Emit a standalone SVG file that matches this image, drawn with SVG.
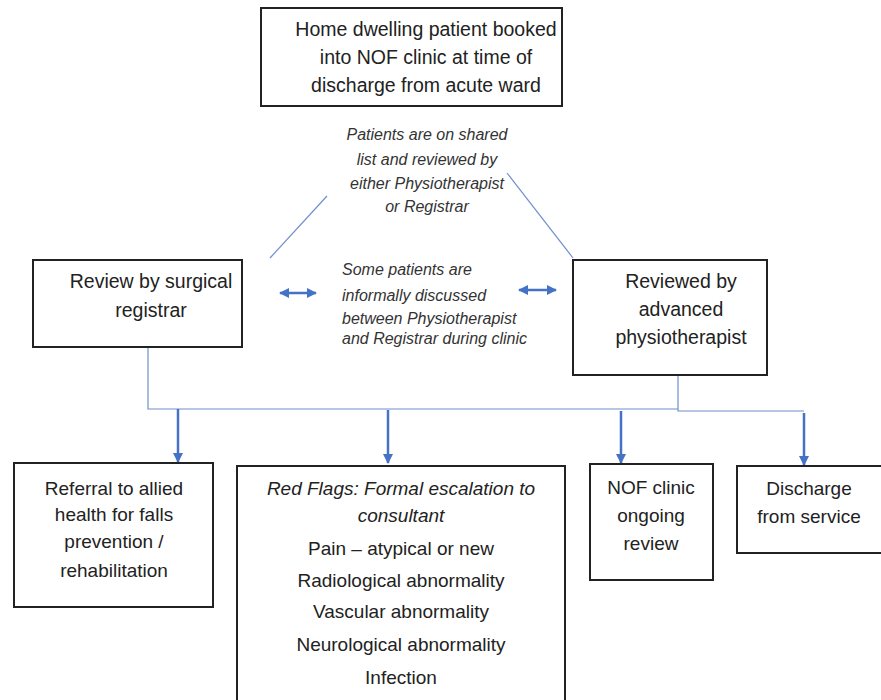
<svg xmlns="http://www.w3.org/2000/svg" width="881" height="700" viewBox="0 0 881 700">
<defs>
<style>
.box{fill:#fff;stroke:#222;stroke-width:2}
.t{font-family:"Liberation Sans",Arial,sans-serif;font-size:19.5px;fill:#222;text-anchor:middle}
.tb{font-family:"Liberation Sans",Arial,sans-serif;font-size:19px;fill:#222;text-anchor:middle}
.i{font-family:"Liberation Sans",Arial,sans-serif;font-size:16px;font-style:italic;fill:#333}
.thin{fill:none;stroke:#6f8fcc;stroke-width:1.2}
.arr{fill:none;stroke:#4472c4;stroke-width:2.5}
</style>
<marker id="ah" viewBox="0 0 10 10" refX="9" refY="5" markerWidth="4" markerHeight="4" orient="auto-start-reverse" markerUnits="strokeWidth">
<path d="M0,0 L10,5 L0,10 z" fill="#4472c4"/>
</marker>
</defs>
<rect width="881" height="700" fill="#fff"/>
<g id="connectors">
<line class="thin" x1="327" y1="196" x2="270" y2="258"/>
<line class="thin" x1="507" y1="173" x2="573" y2="258"/>
<path class="thin" d="M148,347 V409 H678 M678,375 V411 H804"/>
<line class="arr" x1="280" y1="293" x2="316" y2="293" marker-start="url(#ah)" marker-end="url(#ah)"/>
<line class="arr" x1="519" y1="290" x2="556" y2="290" marker-start="url(#ah)" marker-end="url(#ah)"/>
<line class="arr" x1="178" y1="409" x2="178" y2="462" marker-end="url(#ah)"/>
<line class="arr" x1="388" y1="410" x2="388" y2="463" marker-end="url(#ah)"/>
<line class="arr" x1="621" y1="411" x2="621" y2="463" marker-end="url(#ah)"/>
<line class="arr" x1="804" y1="413" x2="804" y2="465" marker-end="url(#ah)"/>
</g>
<g id="top">
<rect class="box" x="261" y="8" width="301" height="98"/>
<text class="t" x="426" y="36" font-size="20">Home dwelling patient booked</text>
<text class="t" x="426" y="64" font-size="20">into NOF clinic at time of</text>
<text class="t" x="426" y="92" font-size="20">discharge from acute ward</text>
</g>
<g id="shared-note">
<text class="i" text-anchor="middle" x="427" y="140">Patients are on shared</text>
<text class="i" text-anchor="middle" x="427" y="165">list and reviewed by</text>
<text class="i" text-anchor="middle" x="427" y="189">either Physiotherapist</text>
<text class="i" text-anchor="middle" x="427" y="212">or Registrar</text>
</g>
<g id="registrar">
<rect class="box" x="33" y="260" width="209" height="87"/>
<text class="t" x="151" y="288">Review by surgical</text>
<text class="t" x="151" y="317">registrar</text>
</g>
<g id="discuss-note">
<text class="i" x="342" y="275">Some patients are</text>
<text class="i" x="342" y="301">informally discussed</text>
<text class="i" x="342" y="324">between Physiotherapist</text>
<text class="i" x="342" y="344">and Registrar during clinic</text>
</g>
<g id="physio">
<rect class="box" x="573" y="260" width="194" height="115"/>
<text class="t" x="681" y="288">Reviewed by</text>
<text class="t" x="681" y="316">advanced</text>
<text class="t" x="681" y="344">physiotherapist</text>
</g>
<g id="referral">
<rect class="box" x="14" y="463" width="199" height="144"/>
<text class="tb" x="114" y="495">Referral to allied</text>
<text class="tb" x="114" y="521">health for falls</text>
<text class="tb" x="114" y="548">prevention /</text>
<text class="tb" x="114" y="577">rehabilitation</text>
</g>
<g id="redflags">
<rect class="box" x="237" y="466" width="328" height="240"/>
<text class="tb" x="401" y="495" font-style="italic">Red Flags: Formal escalation to</text>
<text class="tb" x="401" y="522" font-style="italic">consultant</text>
<text class="tb" x="401" y="555">Pain – atypical or new</text>
<text class="tb" x="401" y="587">Radiological abnormality</text>
<text class="tb" x="401" y="618">Vascular abnormality</text>
<text class="tb" x="401" y="651">Neurological abnormality</text>
<text class="tb" x="401" y="684">Infection</text>
</g>
<g id="ongoing">
<rect class="box" x="590" y="464" width="123" height="116"/>
<text class="tb" x="651" y="494">NOF clinic</text>
<text class="tb" x="651" y="522">ongoing</text>
<text class="tb" x="651" y="550">review</text>
</g>
<g id="discharge">
<rect class="box" x="737" y="466" width="150" height="87"/>
<text class="tb" x="809" y="495">Discharge</text>
<text class="tb" x="809" y="523">from service</text>
</g>
</svg>
